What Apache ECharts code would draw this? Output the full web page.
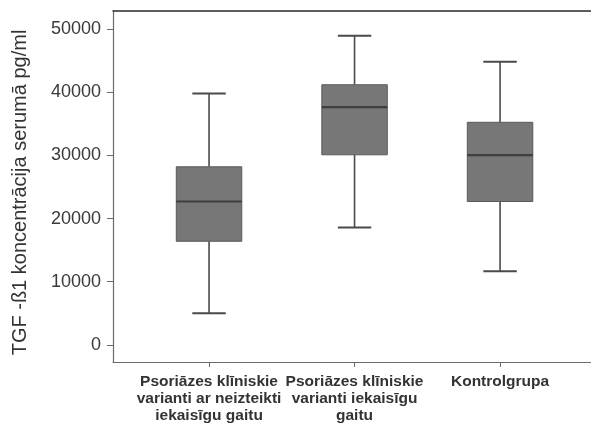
<!DOCTYPE html>
<html>
<head>
<meta charset="utf-8">
<script src="https://cdn.jsdelivr.net/npm/echarts@6/dist/echarts.min.js"></script>
<style>
  html, body { margin: 0; padding: 0; background: #fff; }
  #chart { width: 591px; height: 424px; }
</style>
</head>
<body>
<div id="chart"></div>
<script>
// Groups on the horizontal axis
const categories = [
  'Psoriāzes klīniskie\nvarianti ar neizteikti\niekaisīgu gaitu',
  'Psoriāzes klīniskie\nvarianti iekaisīgu\ngaitu',
  'Kontrolgrupa'
];
// Box-and-whisker statistics per group (pg/ml)
const whiskerLow  = [5000, 18600, 11650];
const quartile1   = [16400, 30100, 22700];
const medians     = [22700, 37650, 30050];
const quartile3   = [28200, 41200, 35250];
const whiskerHigh = [39800, 48950, 44850];
// Y tick values
const yTicks = [0, 10000, 20000, 30000, 40000, 50000];
const yAxisTitle = 'TGF -ß1 koncentrācija serumā pg/ml';

const BOX_WIDTH = 0.45;   // in category units
const CAP_WIDTH = 0.23;

const boxData = categories.map((c, i) => [
  i + 1, whiskerLow[i], quartile1[i], medians[i], quartile3[i], whiskerHigh[i]
]);

function renderBox(params, api) {
  const x = api.value(0);
  const lo = api.coord([x, api.value(1)]);
  const b1 = api.coord([x, api.value(2)]);
  const md = api.coord([x, api.value(3)]);
  const b3 = api.coord([x, api.value(4)]);
  const hi = api.coord([x, api.value(5)]);
  const half = api.size([BOX_WIDTH, 0])[0] / 2;
  const capHalf = api.size([CAP_WIDTH, 0])[0] / 2;
  const lineStyle = { stroke: '#4a4a4a', lineWidth: 1.6 };
  return {
    type: 'group',
    children: [
      { type: 'line', shape: { x1: hi[0], y1: hi[1], x2: b3[0], y2: b3[1] }, style: lineStyle },
      { type: 'line', shape: { x1: b1[0], y1: b1[1], x2: lo[0], y2: lo[1] }, style: lineStyle },
      { type: 'line', shape: { x1: hi[0] - capHalf, y1: hi[1], x2: hi[0] + capHalf, y2: hi[1] }, style: { stroke: '#4a4a4a', lineWidth: 2 } },
      { type: 'line', shape: { x1: lo[0] - capHalf, y1: lo[1], x2: lo[0] + capHalf, y2: lo[1] }, style: { stroke: '#4a4a4a', lineWidth: 2 } },
      { type: 'rect', shape: { x: b3[0] - half, y: b3[1], width: half * 2, height: b1[1] - b3[1] },
        style: { fill: '#777777', stroke: '#5a5a5a', lineWidth: 1 } },
      { type: 'line', shape: { x1: md[0] - half, y1: md[1], x2: md[0] + half, y2: md[1] }, style: { stroke: '#3e3e3e', lineWidth: 2.2 } }
    ]
  };
}

const chart = echarts.init(document.getElementById('chart'), null, { renderer: 'canvas' });
chart.setOption({
  animation: false,
  backgroundColor: '#ffffff',
  grid: { left: 113, right: 0, top: 11, bottom: 60 },
  xAxis: [
    {
      type: 'value',
      min: 0.34,
      max: 3.625,
      splitLine: { show: false },
      axisLine: { show: true, onZero: false, lineStyle: { color: '#6a6a6a', width: 1.2 } },
      axisTick: { show: true, customValues: [1, 2, 3], length: 5, lineStyle: { color: '#6a6a6a' } },
      axisLabel: {
        customValues: [1, 2, 3],
        formatter: v => categories[Math.round(v) - 1] || '',
        margin: 11,
        fontFamily: 'Liberation Sans, Arial, sans-serif',
        fontSize: 15.5,
        fontWeight: 'bold',
        lineHeight: 17,
        color: '#333333',
        align: 'center'
      }
    },
    {
      type: 'value',
      position: 'top',
      min: 0.34,
      max: 3.625,
      splitLine: { show: false },
      axisLine: { show: true, onZero: false, lineStyle: { color: '#2a2a2a', width: 1.5 } },
      axisTick: { show: false },
      axisLabel: { show: false }
    }
  ],
  yAxis: {
    type: 'value',
    min: -2725,
    max: 52880,
    splitLine: { show: false },
    axisLine: { show: true, onZero: false, lineStyle: { color: '#6a6a6a', width: 1.2 } },
    axisTick: { show: true, customValues: yTicks, length: 6, lineStyle: { color: '#6a6a6a' } },
    axisLabel: {
      customValues: yTicks,
      formatter: v => String(v),
      margin: 12,
      fontFamily: 'Liberation Sans, Arial, sans-serif',
      fontSize: 18,
      color: '#3a3a3a',
      padding: [4, 0, 0, 0]
    },
    name: yAxisTitle,
    nameLocation: 'middle',
    nameGap: 83,
    nameTextStyle: {
      fontFamily: 'Liberation Sans, Arial, sans-serif',
      fontSize: 20,
      color: '#333333',
      padding: [0, 12, 0, 0]
    }
  },
  series: [{
    type: 'custom',
    xAxisIndex: 0,
    renderItem: renderBox,
    encode: { x: 0, y: [1, 2, 3, 4, 5] },
    data: boxData
  }]
});
</script>
</body>
</html>
